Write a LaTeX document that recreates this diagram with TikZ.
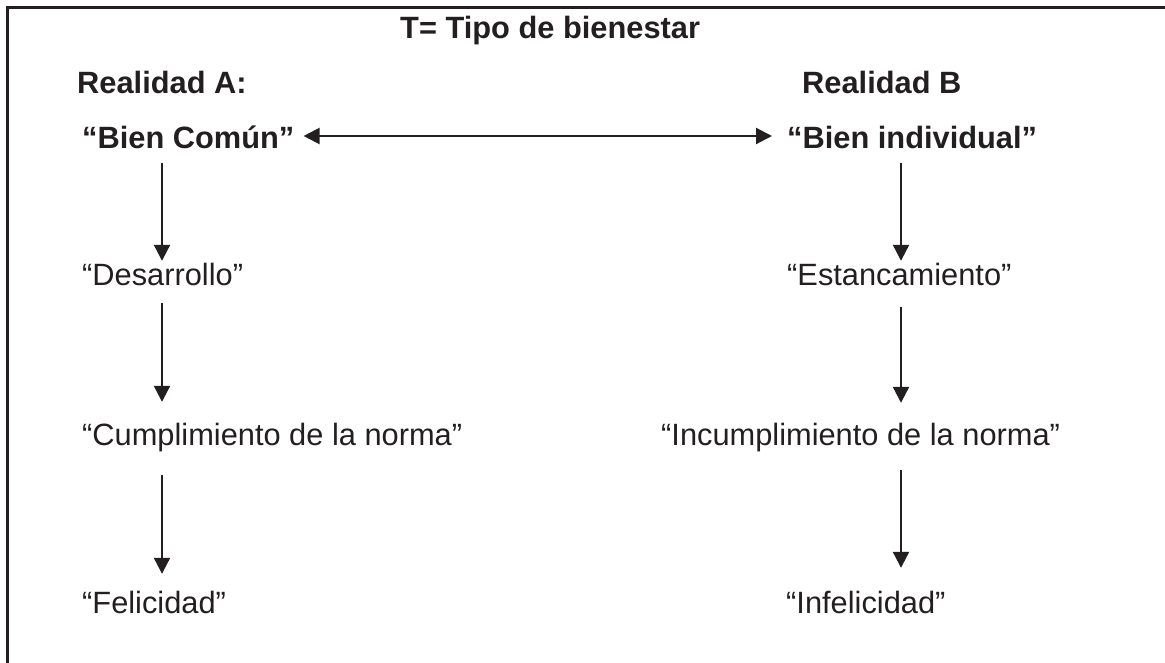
\documentclass[tikz,border=0pt]{standalone}
\usepackage{fontspec}
\setmainfont{Liberation Sans}
\usetikzlibrary{arrows.meta}
\definecolor{tinta}{HTML}{231F20}

\begin{document}
\begin{tikzpicture}[x=1pt,y=-1pt]
   \tikzset{Texto/.style={anchor=base west, inner sep=0pt, text=tinta,
      font=\fontsize{30.8}{37}\selectfont, text height=22pt, text depth=7pt}}
   \tikzset{Titulo/.style={Texto, font=\fontsize{30.8}{37}\selectfont\bfseries}}
   \tikzset{Flecha/.style={-{Triangle[length=16pt,width=16pt]}, line width=2.2pt, draw=tinta}}
   \tikzset{Doble/.style={Flecha, {Triangle[length=16pt,width=16pt]}-{Triangle[length=16pt,width=16pt]}}}
   \tikzset{Marco/.style={line width=3pt, draw=tinta}}
   \useasboundingbox (0,0) rectangle (1165,662);
   \draw[Marco] (1166,7) -- (7,7) -- (7,663);
   \coordinate (colA) at (162,0);
   \coordinate (colB) at (901,0);
   \node[Titulo] (tipo) at (400,38) {T= Tipo de bienestar};
   \node[Titulo] (realA) at (77,93) {Realidad A:};
   \node[Titulo] (realB) at (802,93) {Realidad B};
   \node[Titulo] (bienA) at (82,148) {“Bien Común”};
   \node[Titulo] (bienB) at (787,148) {“Bien individual”};
   \node[Texto] (desarrollo) at (82,285) {“Desarrollo”};
   \node[Texto] (estanca) at (787,285) {“Estancamiento”};
   \node[Texto] (cumple) at (82,445) {“Cumplimiento de la norma”};
   \node[Texto] (incumple) at (661,445) {“Incumplimiento de la norma”};
   \node[Texto] (feliz) at (82,613) {“Felicidad”};
   \node[Texto] (infeliz) at (786,613) {“Infelicidad”};
   \draw[Doble, shorten <=9pt, shorten >=15pt]
      ([yshift=12pt]bienA.base east) -- ([yshift=12pt]bienB.base west);
   \draw[Flecha, shorten <=8pt, shorten >=2pt] (bienA.south -| colA) -- (desarrollo.north -| colA);
   \draw[Flecha, shorten <=11pt, shorten >=21pt] (desarrollo.south -| colA) -- (cumple.north -| colA);
   \draw[Flecha, shorten <=23pt, shorten >=17pt] (cumple.south -| colA) -- (feliz.north -| colA);
   \draw[Flecha, shorten <=8pt, shorten >=2pt] (bienB.south -| colB) -- (estanca.north -| colB);
   \draw[Flecha, shorten <=15pt, shorten >=20pt] (estanca.south -| colB) -- (incumple.north -| colB);
   \draw[Flecha, shorten <=18pt, shorten >=23pt] (incumple.south -| colB) -- (infeliz.north -| colB);
\end{tikzpicture}
\end{document}
